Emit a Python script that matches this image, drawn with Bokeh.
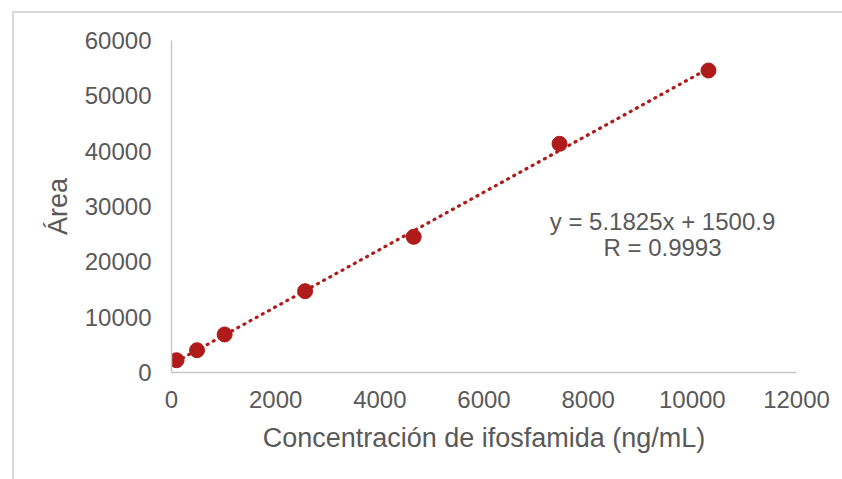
from bokeh.plotting import figure
from bokeh.models import Range1d, Label, FixedTicker
from bokeh.embed import file_html
from bokeh.resources import INLINE

# Data
conc = [96, 490, 1020, 2565, 4650, 7450, 10310]
area = [2220, 4030, 6870, 14700, 24520, 41330, 54580]
slope = 5.1825
intercept = 1500.9
r_value = 0.9993
x_ticks = [0, 2000, 4000, 6000, 8000, 10000, 12000]
y_ticks = [0, 10000, 20000, 30000, 40000, 50000, 60000]

FONT = "Liberation Sans"
TXT = "#595959"
RED = "#AF1B1B"

p = figure(width=830, height=468, output_backend="svg", toolbar_location=None,
           x_range=Range1d(0, 12000), y_range=Range1d(0, 60000),
           min_border_left=157, min_border_right=48, min_border_top=27, min_border_bottom=109,
           margin=(11, 0, 0, 12))
p.styles = {"border-top": "2px solid #D9D9D9", "border-left": "2px solid #D9D9D9",
            "box-sizing": "border-box"}
p.outline_line_color = None
p.xgrid.visible = False
p.ygrid.visible = False
p.background_fill_color = "white"
p.border_fill_color = "white"

for ax in (p.xaxis[0], p.yaxis[0]):
    ax.axis_line_color = "#C8C8C8"
    ax.axis_line_width = 1.5
    ax.major_tick_in = 0
    ax.major_tick_out = 0
    ax.minor_tick_in = 0
    ax.minor_tick_out = 0
    ax.major_label_text_font = FONT
    ax.major_label_text_font_size = "24px"
    ax.major_label_text_color = TXT
    ax.axis_label_text_font = FONT
    ax.axis_label_text_font_size = "27px"
    ax.axis_label_text_color = TXT
    ax.axis_label_text_font_style = "normal"

p.xaxis.ticker = FixedTicker(ticks=x_ticks)
p.yaxis.ticker = FixedTicker(ticks=y_ticks)
p.xaxis.major_label_standoff = 18
p.yaxis.major_label_standoff = 20
p.xaxis.axis_label = "Concentración de ifosfamida (ng/mL)"
p.yaxis.axis_label = "Área"
p.xaxis.axis_label_standoff = 12
p.yaxis.axis_label_standoff = 9

# Trend line across data range
x0, x1 = min(conc), max(conc)
p.line([x0, x1], [slope * x0 + intercept, slope * x1 + intercept],
       line_color=RED, line_width=3.2, line_dash="1 6", line_cap="round")

p.scatter(conc, area, size=15, fill_color=RED, line_color=RED)

eq1 = Label(x=9427, y=27290, text=f"y = {slope}x + {intercept}", text_align="center",
            text_baseline="middle", text_font=FONT, text_font_size="24px", text_color=TXT)
eq2 = Label(x=9427, y=22590, text=f"R = {r_value}", text_align="center",
            text_baseline="middle", text_font=FONT, text_font_size="24px", text_color=TXT)
p.add_layout(eq1)
p.add_layout(eq2)

open("out.html", "w").write(file_html(p, INLINE))
